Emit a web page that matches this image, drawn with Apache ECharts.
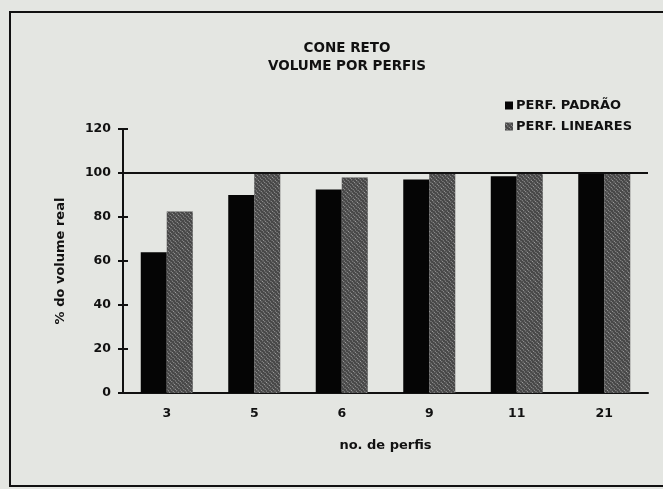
<!DOCTYPE html>
<html>
<head>
<meta charset="utf-8">
<script src="https://cdn.jsdelivr.net/npm/echarts@6/dist/echarts.min.js"></script>
<style>
  html, body { margin: 0; padding: 0; background: #e4e6e2; }
  #chart { width: 663px; height: 489px; }
</style>
</head>
<body>
<div id="chart"></div>
<script>
const categories = ['3', '5', '6', '9', '11', '21']
const padrao = [64, 90, 92.5, 97, 98.5, 100]
const lineares = [82.5, 100, 98, 100, 100, 100]
const yTicks = [0, 20, 40, 60, 80, 100, 120]

const font = '"DejaVu Sans", sans-serif'
const ink = '#111'
const chart = echarts.init(document.getElementById('chart'))

const option = {
    backgroundColor: '#e4e6e2',
    animation: false,
    textStyle: { fontFamily: font, fontWeight: 'bold', color: ink },
    title: {
        text: 'CONE RETO\nVOLUME POR PERFIS',
        left: 342,
        top: 34,
        textAlign: 'center',
        textStyle: { fontSize: 13.5, fontWeight: 'bold', lineHeight: 18, color: ink, fontFamily: font }
    },
    legend: {
        orient: 'vertical',
        left: 500,
        top: 94,
        itemWidth: 8,
        itemHeight: 8,
        itemGap: 8,
        icon: 'rect',
        textStyle: { fontSize: 13, fontWeight: 'bold', color: ink, fontFamily: font, padding: [0, 0, 0, -2] },
        data: ['PERF. PADRÃO', 'PERF. LINEARES']
    },
    graphic: [{
        type: 'rect',
        shape: { x: 10, y: 12, width: 700, height: 474 },
        style: { fill: 'none', stroke: ink, lineWidth: 2 },
        silent: true
    }],
    grid: { left: 123, right: 15, top: 129, bottom: 96 },
    xAxis: [{
        type: 'category',
        data: categories,
        name: 'no. de perfis',
        nameLocation: 'middle',
        nameGap: 46,
        nameTextStyle: { fontSize: 13, fontWeight: 'bold', color: ink, fontFamily: font },
        axisLine: { lineStyle: { color: ink, width: 2 } },
        axisTick: { length: 5, lineStyle: { color: ink, width: 2 } },
        axisLabel: { fontSize: 12.5, fontWeight: 'bold', color: ink, fontFamily: font, margin: 14 }
    }, {
        type: 'category',
        data: categories,
        position: 'bottom',
        axisLine: { show: false },
        axisTick: { inside: true, length: 5, lineStyle: { color: ink, width: 2 } },
        axisLabel: { show: false }
    }],
    yAxis: [{
        type: 'value',
        min: 0,
        max: 120,
        interval: 20,
        name: '% do volume real',
        nameLocation: 'middle',
        nameGap: 56,
        nameTextStyle: { fontSize: 13, fontWeight: 'bold', color: ink, fontFamily: font },
        axisLine: { show: true, lineStyle: { color: ink, width: 2 } },
        axisTick: { show: true, length: 5, lineStyle: { color: ink, width: 2 } },
        axisLabel: {
            fontSize: 12.5, fontWeight: 'bold', color: ink, fontFamily: font, margin: 12,
            formatter: v => yTicks.includes(v) ? String(v) : ''
        },
        splitLine: { show: false }
    }, {
        type: 'value',
        min: 0,
        max: 120,
        interval: 20,
        position: 'left',
        axisLine: { show: false },
        axisTick: { show: true, inside: true, length: 5, lineStyle: { color: ink, width: 2 } },
        axisLabel: { show: false },
        splitLine: { show: false }
    }],
    series: [{
        name: 'PERF. PADRÃO',
        type: 'bar',
        data: padrao,
        barWidth: 26,
        barGap: '0%',
        itemStyle: { color: '#050505' },
        markLine: {
            silent: true,
            symbol: 'none',
            label: { show: false },
            lineStyle: { color: ink, width: 2, type: 'solid' },
            data: [{ yAxis: 100 }]
        },
        z: 2
    }, {
        name: 'PERF. LINEARES',
        type: 'bar',
        data: lineares,
        barWidth: 26,
        barGap: '0%',
        itemStyle: {
            color: '#474747',
            decal: {
                symbol: 'rect',
                symbolSize: 1,
                color: 'rgba(205,205,205,0.7)',
                dashArrayX: [1, 1],
                dashArrayY: [1, 2],
                rotation: 0.78
            }
        },
        z: 2
    }]
}
chart.setOption(option)
window.addEventListener('resize', () => {
    chart.resize()
})
</script>
</body>
</html>
